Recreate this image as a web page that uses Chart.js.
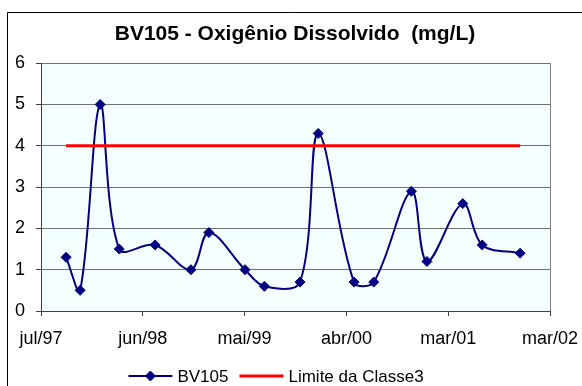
<!DOCTYPE html>
<html>
<head>
<meta charset="utf-8">
<title>BV105 - OD</title>
<script src="https://cdn.jsdelivr.net/npm/chart.js@4.4.0/dist/chart.umd.min.js"></script>
<style>
  html, body { margin: 0; padding: 0; background: #fff; }
</style>
</head>
<body>
<canvas id="od" width="582" height="386"></canvas>
<script>
'use strict';

// campanhas no ponto BV105
var sampleDates = [
  '1997-09-23', '1997-11-09', '1998-01-15', '1998-03-20', '1998-07-18',
  '1998-11-15', '1999-01-14', '1999-05-15', '1999-07-19', '1999-11-15',
  '2000-01-15', '2000-05-14', '2000-07-19', '2000-11-22', '2001-01-13',
  '2001-05-13', '2001-07-17', '2001-11-21'
];
var odValues = [1.3, 0.5, 5.0, 1.5, 1.6, 1.0, 1.9, 1.0, 0.6, 0.7, 4.3, 0.7, 0.7, 2.9, 1.2, 2.6, 1.6, 1.4];
var limitValue = 4; // Classe 3

var axisStart = '1997-07-01';
var axisEnd = '2002-03-01';
var tickLabels = ['jul/97', 'jun/98', 'mai/99', 'abr/00', 'mar/01', 'mar/02'];

var FONT = '"Liberation Sans", Arial, sans-serif';

function toDay(s) {
  var p = s.split('-');
  return Date.UTC(+p[0], +p[1] - 1, +p[2]) / 864e5;
}

var odPoints = sampleDates.map(function (d, i) { return { x: toDay(d), y: odValues[i] }; });
var limitPoints = [
  { x: toDay(sampleDates[0]), y: limitValue },
  { x: toDay(sampleDates[sampleDates.length - 1]), y: limitValue }
];

// white page, chart frame and the pale plot area
var backdrop = {
  id: 'backdrop',
  beforeDraw: function (chart) {
    var ctx = chart.ctx, a = chart.chartArea;
    ctx.save();
    ctx.fillStyle = '#fff';
    ctx.fillRect(0, 0, chart.width, chart.height);
    ctx.strokeStyle = '#000';
    ctx.lineWidth = 1;
    ctx.beginPath();
    ctx.moveTo(7.5, chart.height);
    ctx.lineTo(7.5, 12.5);
    ctx.lineTo(chart.width, 12.5);
    ctx.stroke();
    ctx.fillStyle = '#F4FFFF';
    ctx.fillRect(a.left, a.top, a.right - a.left, a.bottom - a.top);
    ctx.restore();
  }
};

// legend under the x axis: line sample (with marker) + label
var bottomLegend = {
  id: 'bottomLegend',
  afterDraw: function (chart) {
    var ctx = chart.ctx;
    var y = 376, sym = 44, gapText = 5, gapItem = 11;
    ctx.save();
    ctx.font = '17px ' + FONT;
    ctx.textBaseline = 'middle';
    var sets = chart.data.datasets;
    var total = 0;
    sets.forEach(function (ds, i) {
      total += sym + gapText + ctx.measureText(ds.label).width + (i ? gapItem : 0);
    });
    var x = 276 - total / 2;
    sets.forEach(function (ds) {
      ctx.strokeStyle = ds.borderColor;
      ctx.lineWidth = ds.borderWidth;
      ctx.beginPath();
      ctx.moveTo(x, y);
      ctx.lineTo(x + sym, y);
      ctx.stroke();
      if (ds.pointRadius > 0) {
        ctx.fillStyle = ds.backgroundColor;
        ctx.lineWidth = ds.pointBorderWidth;
        Chart.helpers.drawPoint(ctx, {
          pointStyle: ds.pointStyle, radius: ds.pointRadius, rotation: 0, borderWidth: ds.pointBorderWidth
        }, x + sym / 2, y);
      }
      ctx.fillStyle = '#000';
      ctx.fillText(ds.label, x + sym + gapText, y + 1);
      x += sym + gapText + ctx.measureText(ds.label).width + gapItem;
    });
    ctx.restore();
  }
};

new Chart(document.getElementById('od'), {
  type: 'line',
  data: {
    datasets: [{
      label: 'BV105',
      data: odPoints,
      borderColor: '#000080',
      backgroundColor: '#000080',
      borderWidth: 2,
      pointStyle: 'rectRot',
      pointRadius: 5,
      pointHoverRadius: 5,
      pointBorderWidth: 1,
      tension: 0.35,
      order: 1
    }, {
      label: 'Limite da Classe3',
      data: limitPoints,
      borderColor: '#FF0000',
      backgroundColor: '#FF0000',
      borderWidth: 3,
      pointRadius: 0,
      tension: 0,
      order: 0
    }]
  },
  options: {
    responsive: false,
    animation: false,
    devicePixelRatio: 1,
    layout: { padding: { left: 8, right: 0, top: 0, bottom: 35 } },
    plugins: {
      legend: { display: false },
      tooltip: { enabled: false },
      title: {
        display: true,
        text: 'BV105 - Oxigênio Dissolvido  (mg/L)',
        color: '#000',
        font: { family: FONT, size: 21, weight: 'bold' },
        padding: { top: 22, bottom: 16 }
      }
    },
    scales: {
      x: {
        type: 'linear',
        min: toDay(axisStart),
        max: toDay(axisEnd),
        afterBuildTicks: function (scale) {
          var step = (scale.max - scale.min) / (tickLabels.length - 1);
          scale.ticks = tickLabels.map(function (_, i) { return { value: scale.min + i * step }; });
        },
        afterFit: function (scale) {
          scale.height = 40;
          scale.paddingRight = 32;
        },
        ticks: {
          autoSkip: false,
          maxRotation: 0,
          padding: 12,
          color: '#000',
          font: { family: FONT, size: 18 },
          callback: function (v, i) { return tickLabels[i]; }
        },
        grid: {
          color: function (c) { return c.index === tickLabels.length - 1 ? '#808080' : 'rgba(0,0,0,0)'; },
          tickColor: '#404040',
          tickLength: 5
        },
        border: { color: '#404040' }
      },
      y: {
        min: 0,
        max: 6,
        afterFit: function (scale) { scale.width = 33; },
        ticks: {
          stepSize: 1,
          padding: 11,
          color: '#000',
          font: { family: FONT, size: 18 }
        },
        grid: { color: '#707070', tickColor: '#404040', tickLength: 5 },
        border: { color: '#404040' }
      }
    }
  },
  plugins: [backdrop, bottomLegend]
});
</script>
</body>
</html>
